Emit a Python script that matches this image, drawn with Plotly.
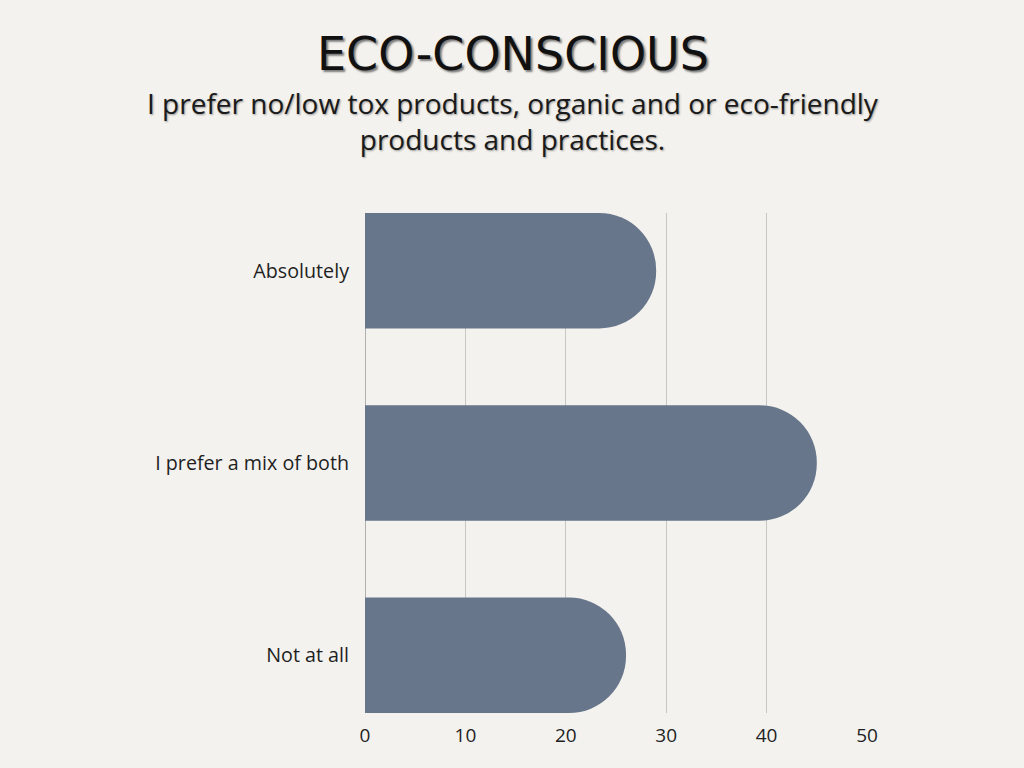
import plotly.graph_objects as go

# survey answers, top to bottom
answers = ["Absolutely", "I prefer a mix of both", "Not at all"]
counts = [29, 45, 26]
x_ticks = [0, 10, 20, 30, 40, 50]

title = "ECO-CONSCIOUS"
subtitle = "I prefer no/low tox products, organic and or eco-friendly<br>products and practices."

W, H = 1024, 768
L, R, T, B = 365, 157, 213, 55

fig = go.Figure(go.Bar(
    x=counts, y=answers, orientation="h",
    marker=dict(color="#67768a", cornerradius="50%", line=dict(width=0)),
    width=0.6,
    hoverinfo="x+y",
))


def to_paper(px, py):
    """page pixels (from top-left) -> paper coords of the plot area"""
    return (px - L) / (W - L - R), (H - B - py) / (H - T - B)


tx, ty = to_paper(513, 83)
sx, sy = to_paper(513, 82)

fig.update_layout(
    width=W, height=H,
    paper_bgcolor="#f3f2ee", plot_bgcolor="rgba(0,0,0,0)",
    margin=dict(l=L, r=R, t=T, b=B),
    showlegend=False,
    font=dict(family="Open Sans", size=19, color="#1f1f1f"),
    xaxis=dict(
        range=[0, 50], tickvals=x_ticks, showgrid=True, gridcolor="#c6c6c3",
        gridwidth=1, zeroline=True, zerolinecolor="#b0b0ae", zerolinewidth=1,
        showline=False, ticks="", ticklabelstandoff=9,
        tickfont=dict(size=19, color="#1f1f1f"), fixedrange=True,
    ),
    yaxis=dict(
        categoryorder="array", categoryarray=answers, autorange=False,
        range=[2.3, -0.3], showgrid=False, zeroline=False, ticks="",
        ticklabelstandoff=15, tickfont=dict(size=19.7, color="#1f1f1f"),
        fixedrange=True,
    ),
    annotations=[
        dict(text=title, x=tx, y=ty, xref="paper", yref="paper",
             xanchor="center", yanchor="bottom", showarrow=False,
             font=dict(family="DejaVu Sans", size=46, color="#111111",
                       shadow="2px 2px 2px #7a7a7a")),
        dict(text=subtitle, x=sx, y=sy, xref="paper", yref="paper",
             xanchor="center", yanchor="top", showarrow=False, align="center",
             font=dict(family="Open Sans", size=28, color="#1a1a1a",
                       shadow="1px 1px 2px #9a9a9a")),
    ],
)

fig.write_html("out.html", config={"displayModeBar": False},
               post_script="document.body.style.margin='0';")
